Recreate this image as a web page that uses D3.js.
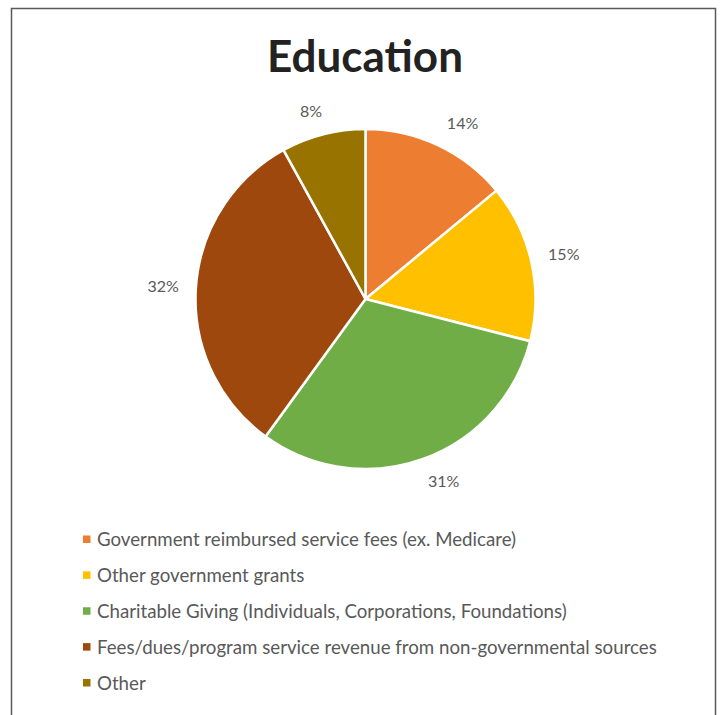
<!DOCTYPE html>
<html><head><meta charset="utf-8">
<script src="https://cdn.jsdelivr.net/npm/d3@7"></script>
<style>body{margin:0;background:#fff}</style>
</head><body>
<script>
const categories = [
  "Government reimbursed service fees (ex. Medicare)",
  "Other government grants",
  "Charitable Giving (Individuals, Corporations, Foundations)",
  "Fees/dues/program service revenue from non-governmental sources",
  "Other"
];
const values = [14, 15, 31, 32, 8];
const labels = ["14%", "15%", "31%", "32%", "8%"];
const colors = ["#ED7D31", "#FFC000", "#70AD47", "#9E480E", "#997300"];
const title = "Education";

const W = 720, H = 715;
const svg = d3.select("body").append("svg").attr("width", W).attr("height", H);
const font = "Lato, 'Open Sans', sans-serif";

svg.append("rect").attr("x", 11.5).attr("y", 8.5).attr("width", 704).attr("height", 720)
  .attr("fill", "#fff").attr("stroke", "#595959").attr("stroke-width", 1.5);

svg.append("text").attr("x", 365).attr("y", 72).attr("text-anchor", "middle")
  .attr("font-family", font).attr("font-weight", 700).attr("font-size", 44)
  .attr("fill", "#222").text(title);

const cx = 365.5, cy = 299, r = 170;
const pie = d3.pie().sort(null).value(d => d)(values);
const arc = d3.arc().innerRadius(0).outerRadius(r);
const g = svg.append("g").attr("transform", `translate(${cx},${cy})`);
g.selectAll("path").data(pie).join("path")
  .attr("d", arc).attr("fill", (d, i) => colors[i])
  .attr("stroke", "#fff").attr("stroke-width", 2.5).attr("stroke-linejoin", "round");

// Excel-like "outside end" label placement
const pr = 184, clamp = v => Math.max(-1, Math.min(1, v));
g.selectAll("text").data(pie).join("text")
  .attr("text-anchor", "middle").attr("dy", "0.35em")
  .attr("font-family", font).attr("font-size", 16).attr("fill", "#595959")
  .text((d, i) => labels[i])
  .attr("transform", function(d) {
    const a = (d.startAngle + d.endAngle) / 2;
    const w = this.getComputedTextLength();
    const s = Math.sin(a), c = Math.cos(a);
    const x = pr * s + (w / 2 + 3) * clamp(2.5 * s);
    const y = -pr * c - 9 * clamp(2.5 * c);
    return `translate(${x},${y})`;
  });

const ly = d3.scalePoint().domain(categories).range([539.5, 683]);
const lg = svg.append("g");
const items = lg.selectAll("g").data(categories).join("g")
  .attr("transform", d => `translate(83,${ly(d)})`);
items.append("rect").attr("x", 0).attr("y", -4).attr("width", 7.5).attr("height", 7.5)
  .attr("fill", (d, i) => colors[i]);
items.append("text").attr("x", 14).attr("dy", "0.35em")
  .attr("font-family", font).attr("font-size", 18.7).attr("fill", "#595959").text(d => d);
</script>
</body></html>
